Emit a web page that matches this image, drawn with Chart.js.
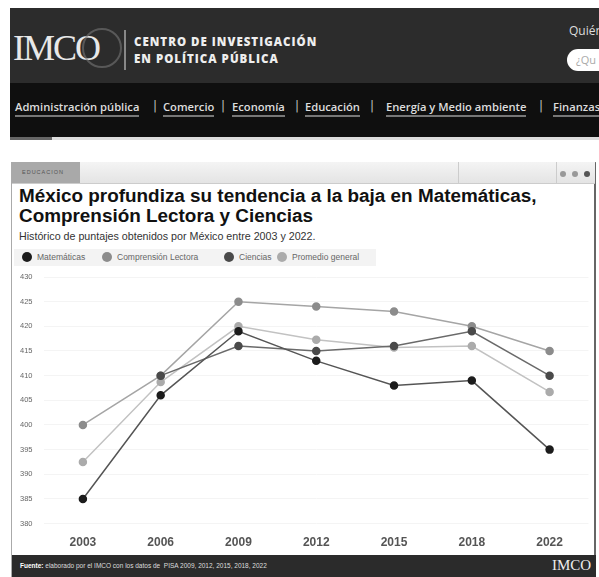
<!DOCTYPE html>
<html>
<head>
<meta charset="utf-8">
<script src="https://cdn.jsdelivr.net/npm/chart.js@4.4.0/dist/chart.umd.min.js"></script>
<style>
  body { margin: 0; width: 599px; height: 577px; background: #fff; position: relative; overflow: hidden; font-family: "Liberation Sans", Arial, sans-serif; }
  .abs { position: absolute; }
  #header { left: 10px; top: 8px; width: 589px; height: 75px; background: #2c2c2c; }
  #logo { left: 3px; top: 19px; font-family: "Liberation Serif", serif; font-size: 36px; color: #e8e8e8; letter-spacing: -2px; }
  #logo-ring { left: 72px; top: 20px; width: 36px; height: 36px; border-radius: 50%; border: 2px solid #777; opacity: .6; }
  #sep { left: 114px; top: 22px; width: 2px; height: 40px; background: #888; }
  #centro { left: 124px; top: 25px; color: #eee; font-family: "Open Sans", sans-serif; font-weight: 800; font-size: 11.5px; letter-spacing: 1px; line-height: 17px; }
  #quien { left: 559px; top: 14px; color: #ddd; font-family: "Open Sans", sans-serif; font-size: 12px; }
  #search { left: 557px; top: 41px; width: 60px; height: 22px; border-radius: 11px; background: #fff; color: #aaa; font-family: "Open Sans", sans-serif; font-size: 11px; line-height: 22px; padding-left: 9px; box-sizing: border-box; }
  #nav { left: 10px; top: 83px; width: 589px; height: 54px; background: #0f0f0f; }
  .navitem { position: absolute; top: 16px; color: #ddd; font-family: "Open Sans", sans-serif; font-weight: 600; font-size: 11.2px; white-space: nowrap; border-bottom: 2px solid #777; padding-bottom: 1px; }
  .navsep { position: absolute; top: 16px; color: #bbb; font-family: "DejaVu Sans", sans-serif; font-size: 12px; }
  #strip { left: 10px; top: 137px; width: 589px; height: 3px; background: #ddd; }
  #strip2 { left: 10px; top: 137px; width: 42px; height: 3px; background: #666; }
  #card { left: 11px; top: 162px; width: 585px; height: 415px; border: 1px solid #aaa; border-right: 2px solid #666; box-sizing: border-box; }
  #topbar { left: 12px; top: 162px; width: 583px; height: 21px; background: linear-gradient(#f4f4f4, #e4e4e4); border-bottom: 1px solid #ccc; }
  #tab { left: 12px; top: 162px; width: 68px; height: 21px; background: #a9a9a9; color: #555; font-size: 5.5px; letter-spacing: 1px; line-height: 21px; padding-left: 10px; box-sizing: border-box; }
  .vline { position: absolute; top: 162px; width: 1px; height: 21px; background: #ccc; }
  .dot { position: absolute; top: 171px; width: 6px; height: 6px; border-radius: 50%; background: #999; }
  #title { left: 19px; top: 186px; font-weight: bold; font-size: 18.9px; color: #111; line-height: 20px; }
  #subtitle { left: 19px; top: 230px; font-size: 10.7px; color: #333; }
  #legend { left: 14px; top: 249px; width: 362px; height: 17px; background: #f3f3f3; }
  .leg { position: absolute; top: 3px; font-size: 8.5px; color: #666; white-space: nowrap; line-height: 11px; }
  .leg span { display: inline-block; width: 10px; height: 10px; border-radius: 50%; vertical-align: top; margin-right: 5px; }
  #chartbox { left: 14px; top: 268px; width: 580px; height: 286px; }
  #footer { left: 12px; top: 555px; width: 584px; height: 22px; background: #2b2b2b; color: #ddd; font-size: 6.5px; line-height: 22px; padding-left: 8px; box-sizing: border-box; }
  #footlogo { left: 552px; top: 557px; font-family: "Liberation Serif", serif; font-size: 15px; color: #eee; }
</style>
</head>
<body>
<div id="header" class="abs">
  <div id="logo" class="abs">IMCO</div>
  <div id="logo-ring" class="abs"></div>
  <div id="sep" class="abs"></div>
  <div id="centro" class="abs">CENTRO DE INVESTIGACIÓN<br>EN POLÍTICA PÚBLICA</div>
  <div id="quien" class="abs">Quién</div>
  <div id="search" class="abs">¿Qu</div>
</div>
<div id="nav" class="abs">
  <div class="navitem" style="left:5px">Administración pública</div>
  <div class="navsep" style="left:143px">|</div>
  <div class="navitem" style="left:153px">Comercio</div>
  <div class="navsep" style="left:211px">|</div>
  <div class="navitem" style="left:222px">Economía</div>
  <div class="navsep" style="left:285px">|</div>
  <div class="navitem" style="left:295px">Educación</div>
  <div class="navsep" style="left:360px">|</div>
  <div class="navitem" style="left:376px">Energía y Medio ambiente</div>
  <div class="navsep" style="left:529px">|</div>
  <div class="navitem" style="left:543px">Finanzas</div>
</div>
<div id="strip" class="abs"></div>
<div id="strip2" class="abs"></div>

<div id="card" class="abs"></div>
<div id="topbar" class="abs"></div>
<div id="tab" class="abs">EDUCACION</div>
<div class="vline" style="left:458px"></div>
<div class="vline" style="left:556px"></div>
<div class="dot" style="left:560px"></div>
<div class="dot" style="left:572px"></div>
<div class="dot" style="left:584px;background:#555"></div>

<div id="title" class="abs">México profundiza su tendencia a la baja en Matemáticas,<br>Comprensión Lectora y Ciencias</div>
<div id="subtitle" class="abs">Histórico de puntajes obtenidos por México entre 2003 y 2022.</div>
<div id="legend" class="abs"></div>
<div id="chartbox" class="abs"><canvas id="lineChart"></canvas></div>

<div id="footer" class="abs"><b style="color:#fff">Fuente:</b> elaborado por el IMCO con los datos de &nbsp;PISA 2009, 2012, 2015, 2018, 2022</div>
<div id="footlogo" class="abs">IMCO</div>

<script>
// datos PISA Mexico
const years = ['2003', '2006', '2009', '2012', '2015', '2018', '2022'];
const matematicas = [385, 406, 419, 413, 408, 409, 395];
const lectura = [400, 410, 425, 424, 423, 420, 415];
const ciencias = [null, 410, 416, 415, 416, 419, 410];
const promedio = [392.5, 408.7, 420, 417.3, 415.7, 416, 406.7];

const seriesNames = ['Matemáticas', 'Comprensión Lectora', 'Ciencias', 'Promedio general'];
const seriesColors = ['#1c1c1c', '#8c8c8c', '#4a4a4a', '#ababab'];
const lineColors = ['#555555', '#a5a5a5', '#6a6a6a', '#c2c2c2'];
const seriesData = [matematicas, lectura, ciencias, promedio];

// legend (html)
const legendPos = [8, 88, 210, 263];
let legendHtml = '';
for (let i = 0; i < seriesNames.length; i++) {
    legendHtml += '<div class="leg" style="left:' + legendPos[i] + 'px"><span style="background:' + seriesColors[i] + '"></span>' + seriesNames[i] + '</div>';
}
document.getElementById('legend').innerHTML = legendHtml;

let datasets = [];
for (let i = 0; i < seriesNames.length; i++) {
    datasets.push({
        label: seriesNames[i],
        data: seriesData[i],
        borderColor: lineColors[i],
        backgroundColor: seriesColors[i],
        pointBackgroundColor: seriesColors[i],
        pointBorderColor: seriesColors[i],
        borderWidth: 1.5,
        pointRadius: 3.5,
        fill: false,
        tension: 0
    });
}
// draw order: matematicas on top
datasets[0].order = 1;
datasets[2].order = 2;
datasets[1].order = 3;
datasets[3].order = 4;

var ctx = document.getElementById('lineChart').getContext('2d');
var chart = new Chart(ctx, {
    type: 'line',
    data: {
        labels: years,
        datasets: datasets
    },
    options: {
        responsive: true,
        maintainAspectRatio: false,
        animation: false,
        layout: { padding: { left: 6, top: 9, right: 5, bottom: 0 } },
        plugins: {
            legend: { display: false },
            tooltip: { enabled: false }
        },
        scales: {
            x: {
                offset: true,
                grid: { display: false },
                border: { display: false },
                ticks: {
                    color: '#555',
                    font: { family: 'Liberation Sans', size: 12, weight: 'bold' },
                    padding: 4
                }
            },
            y: {
                min: 380,
                max: 430,
                afterFit: function (scale) { scale.width = 24; },
                grid: { color: '#f4f4f4', drawTicks: false },
                border: { display: false },
                ticks: {
                    stepSize: 5,
                    crossAlign: 'far',
                    padding: 0,
                    color: '#666',
                    font: { family: 'Liberation Sans', size: 7.5 }
                }
            }
        }
    }
});
</script>
</body>
</html>
